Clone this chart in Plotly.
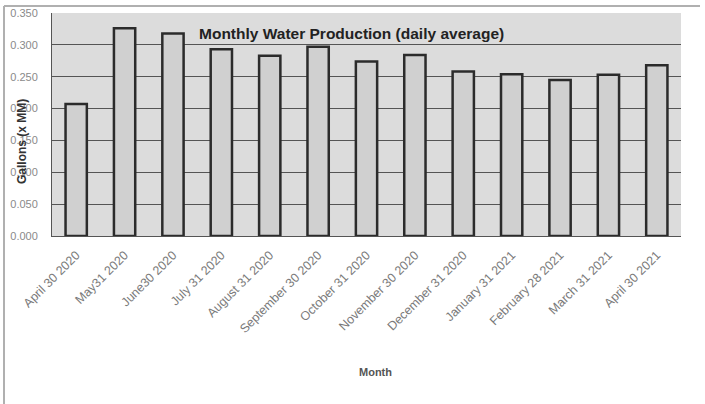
import plotly.graph_objects as go

# Month-end labels and daily-average production (millions of gallons)
months = [
    "April 30 2020", "May31 2020", "June30 2020", "July 31 2020",
    "August 31 2020", "September 30 2020", "October 31 2020",
    "November 30 2020", "December 31 2020", "January 31 2021",
    "February 28 2021", "March 31 2021", "April 30 2021",
]
production = [0.207, 0.326, 0.318, 0.293, 0.283, 0.297, 0.274,
              0.284, 0.258, 0.254, 0.245, 0.253, 0.268]

y_ticks = [0.0, 0.05, 0.10, 0.15, 0.20, 0.25, 0.30, 0.35]
y_tick_text = ["0.000", "0.050", "0.100", "0.150", "0.200", "0.250", "0.300", "0.350"]

W, H = 705, 404
L, R, T, B = 52, 24, 13, 168
pw, ph = W - L - R, H - T - B


def px(x):
    return (x - L) / pw


def py(y):
    return (H - B - y) / ph


fig = go.Figure(
    go.Bar(
        x=months,
        y=production,
        marker=dict(color="#d0d0d0", line=dict(color="#2b2b2b", width=2.5)),
        showlegend=False,
    )
)

fig.update_layout(
    width=W,
    height=H,
    margin=dict(l=L, r=R, t=T, b=B, autoexpand=False),
    paper_bgcolor="white",
    plot_bgcolor="#dcdcdc",
    bargap=0.56,
    font=dict(family="Liberation Sans, Arial, sans-serif", color="#777777", size=10),
    xaxis=dict(
        automargin=False,
        tickangle=-45,
        showgrid=False,
        showline=True,
        linecolor="#555555",
        linewidth=1,
        ticks="outside",
        ticklen=6,
        tickcolor="rgba(0,0,0,0)",
        tickfont=dict(size=12.5, color="#7a7a7a"),
    ),
    yaxis=dict(
        automargin=False,
        range=[0, 0.35],
        tickvals=y_ticks,
        ticktext=y_tick_text,
        showgrid=True,
        gridcolor="#555555",
        gridwidth=1,
        zeroline=False,
        showline=True,
        linecolor="#555555",
        ticks="outside",
        ticklen=11,
        tickcolor="rgba(0,0,0,0)",
        tickfont=dict(size=11, color="#8a8a8a"),
    ),
    annotations=[
        dict(
            text="<b>Monthly Water Production (daily average)</b>",
            xref="paper", yref="paper",
            x=px(351), y=py(33),
            xanchor="center", yanchor="middle",
            showarrow=False,
            font=dict(size=15.5, color="#222222"),
        ),
        dict(
            text="<b>Gallons (x MM)</b>",
            xref="paper", yref="paper",
            x=px(22), y=py(141),
            xanchor="center", yanchor="middle",
            textangle=-90,
            showarrow=False,
            font=dict(size=12, color="#333333"),
        ),
        dict(
            text="<b>Month</b>",
            xref="paper", yref="paper",
            x=px(375), y=py(372),
            xanchor="center", yanchor="middle",
            showarrow=False,
            font=dict(size=11, color="#555555"),
        ),
    ],
    shapes=[
        dict(type="line", xref="paper", yref="paper",
             x0=px(4), x1=px(700), y0=py(6), y1=py(6),
             line=dict(color="#b0b0b0", width=2)),
        dict(type="line", xref="paper", yref="paper",
             x0=px(4), x1=px(4), y0=py(6), y1=py(404),
             line=dict(color="#b0b0b0", width=2)),
    ],
)

fig.write_html("out.html")
